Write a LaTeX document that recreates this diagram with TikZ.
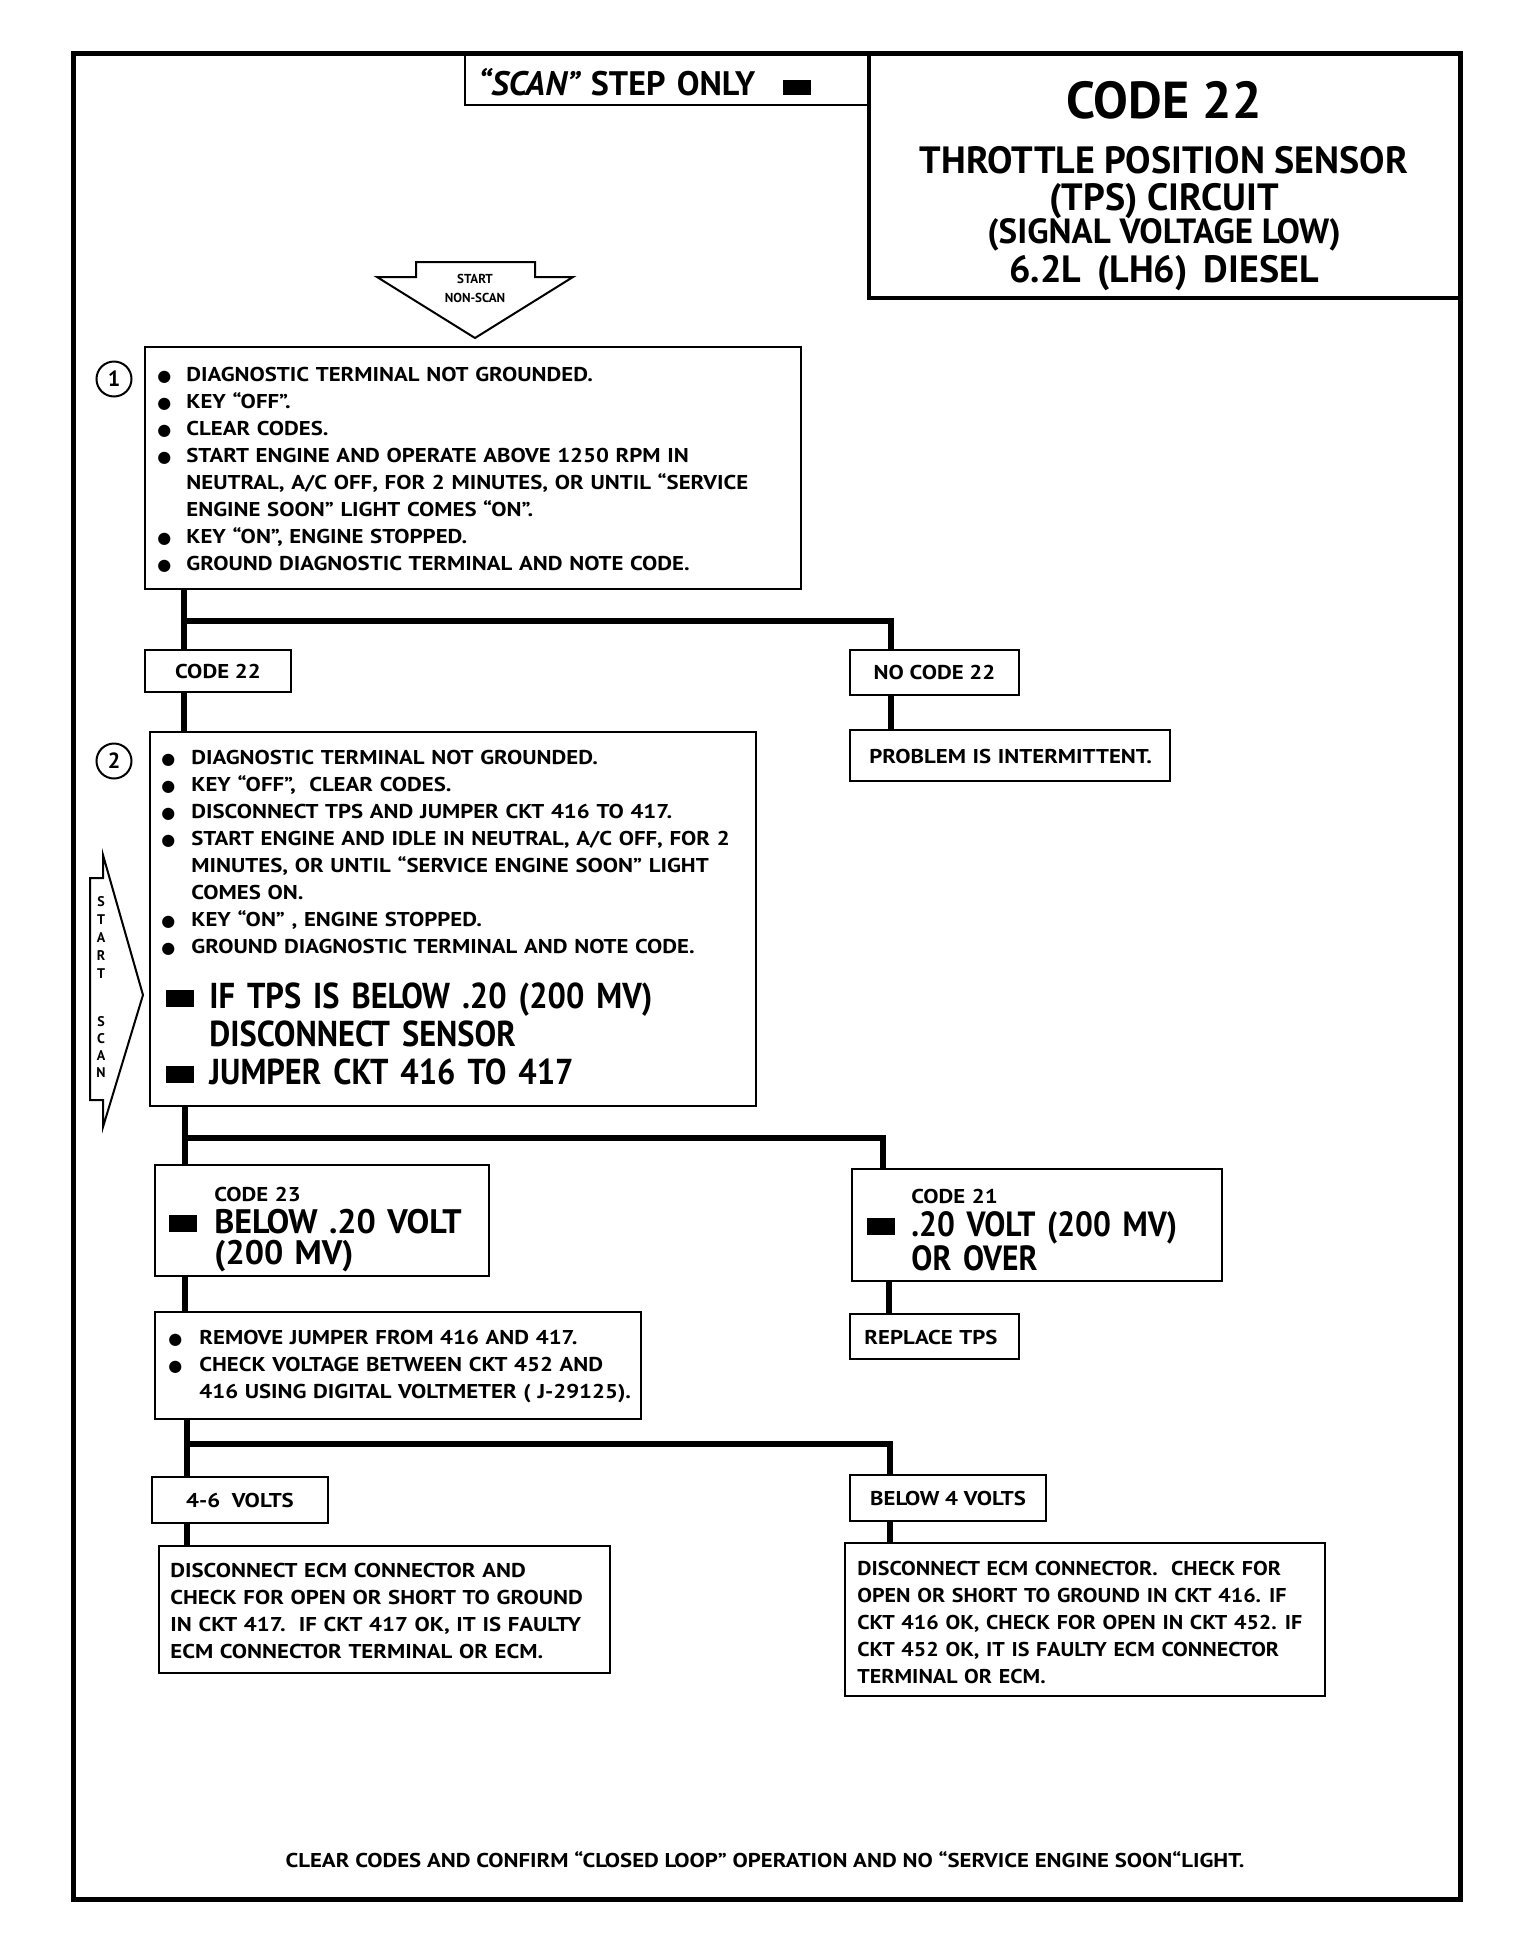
\documentclass[tikz,border=0pt]{standalone}
\usepackage{fontspec}
\setmainfont{PT Sans}
\newfontfamily\smfont{PT Sans}[FakeStretch=1.14]
\newfontfamily\rbfont{PT Sans}[FakeStretch=1.1]
\newfontfamily\cndfont{PT Sans}[FakeStretch=0.9]
\newfontfamily\symfont{DejaVu Sans}
\usetikzlibrary{fit}
\newlength\bulind
\newcommand\dotb{{\symfont\fontsize{8}{8}\selectfont ●}}
\newcommand\bul[1]{\hangindent=\bulind\hangafter=1 \makebox[\bulind][l]{\dotb}#1\par}
\newcommand\blk{\rule[0.3pt]{14pt}{8.5pt}}
\tikzset{
  box/.style={draw, line width=1.2pt, inner sep=0pt},
  conn/.style={line width=3pt},
  txt/.style={inner sep=0pt, anchor=base west, text width=#1, align=left},
  txt/.default=400pt,
  ctxt/.style={inner sep=0pt, anchor=base},
  f10/.style={font=\smfont\fontsize{10}{13.5}\selectfont\bfseries},
  numc/.style={circle, draw, line width=1pt, minimum size=17.5pt, inner sep=0pt, font=\fontsize{11}{12}\selectfont\bfseries},
  arrowshape/.style={line width=1pt, line join=miter},
}
\begin{document}
\begin{tikzpicture}[x=0.5pt,y=-0.5pt]
\useasboundingbox (0,0) rectangle (1536,1960);
% frame and header
\node[box, line width=2.5pt, fit={(73,53)(1460,1899)}] (frame) {};
\node[box, fit={(465,53)(869,105)}] (scanbox) {};
\node[box, line width=1.6pt, fit={(869,53)(1460,298)}] (titlebox) {};
\node[txt, font=\fontsize{17}{19}\selectfont\bfseries] (scantxt) at (478,95) {{\itshape “SCAN”} STEP ONLY\hspace{14pt}\rule{14pt}{7.5pt}};
\node[ctxt, font=\fontsize{26}{30}\selectfont\bfseries] (code22) at (1164,118) {CODE 22};
\node[ctxt, font=\fontsize{19}{22}\selectfont\bfseries] (tt1) at (1164,173) {THROTTLE POSITION SENSOR};
\node[ctxt, font=\fontsize{19}{22}\selectfont\bfseries] (tt2) at (1164,210) {(TPS) CIRCUIT};
\node[ctxt, font=\fontsize{17.5}{19}\selectfont\bfseries] (tt3) at (1164,243) {(SIGNAL VOLTAGE LOW)};
\node[ctxt, font=\fontsize{19}{22}\selectfont\bfseries] (tt4) at (1164,282) {6.2L\hspace{8pt}(LH6)\hspace{8pt}DIESEL};
% start non-scan arrow
\draw[arrowshape] (416,262) -- (535,262) -- (535,277) -- (573,277) -- (475,338) -- (377,277) -- (416,277) -- cycle;
\node[ctxt, font=\fontsize{6.5}{8}\selectfont\bfseries] (ns1) at (475,283) {START};
\node[ctxt, font=\fontsize{6.5}{8}\selectfont\bfseries] (ns2) at (475,302) {NON-SCAN};
% start scan arrow
\draw[arrowshape] (103,855) -- (143,995) -- (103,1127) -- (103,1100) -- (90,1100) -- (90,878) -- (103,878) -- cycle;
\node[inner sep=0pt, anchor=base, text width=10pt, align=center, font=\fontsize{7}{9}\selectfont\bfseries] (ss1) at (101,906) {S\\T\\A\\R\\T};
\node[inner sep=0pt, anchor=base, text width=10pt, align=center, font=\fontsize{7}{8.5}\selectfont\bfseries] (ss2) at (101,1026) {S\\C\\A\\N};
% step numbers
\node[numc] (n1) at (114,379) {1};
\node[numc] (n2) at (114,761) {2};
% boxes
\node[box, fit={(145,347)(801,589)}] (b1) {};
\node[box, fit={(145,650)(291,692)}] (c22) {};
\node[box, fit={(850,650)(1019,695)}] (nc22) {};
\node[box, fit={(850,730)(1170,781)}] (prob) {};
\node[box, fit={(150,732)(756,1106)}] (b2) {};
\node[box, fit={(155,1165)(489,1276)}] (c23) {};
\node[box, fit={(852,1169)(1222,1281)}] (c21) {};
\node[box, fit={(155,1312)(641,1419)}] (rem) {};
\node[box, fit={(850,1314)(1019,1359)}] (rep) {};
\node[box, fit={(152,1477)(328,1523)}] (v46) {};
\node[box, fit={(850,1475)(1046,1521)}] (b4v) {};
\node[box, fit={(159,1546)(610,1673)}] (lbox) {};
\node[box, fit={(845,1543)(1325,1696)}] (rbox) {};
% texts
\node[txt, f10] (t1) at (157,381) {\setlength\bulind{14.5pt}%
\bul{DIAGNOSTIC TERMINAL NOT GROUNDED.}%
\bul{KEY “OFF”.}%
\bul{CLEAR CODES.}%
\bul{START ENGINE AND OPERATE ABOVE 1250 RPM IN\newline NEUTRAL, A/C OFF, FOR 2 MINUTES, OR UNTIL “SERVICE\newline ENGINE SOON” LIGHT COMES “ON”.}%
\bul{KEY “ON”, ENGINE STOPPED.}%
\bul{GROUND DIAGNOSTIC TERMINAL AND NOTE CODE.}};
\node[ctxt, f10] (tc22) at (c22.center) [yshift=-3.5pt] {CODE 22};
\node[ctxt, f10] (tnc22) at (nc22.center) [yshift=-3.5pt] {NO CODE 22};
\node[txt, f10] (tprob) at (869,763) {PROBLEM IS INTERMITTENT.};
\node[txt, f10] (t2) at (161,764) {\setlength\bulind{15pt}%
\bul{DIAGNOSTIC TERMINAL NOT GROUNDED.}%
\bul{KEY “OFF”,\ \ CLEAR CODES.}%
\bul{DISCONNECT TPS AND JUMPER CKT 416 TO 417.}%
\bul{START ENGINE AND IDLE IN NEUTRAL, A/C OFF, FOR 2\newline MINUTES, OR UNTIL “SERVICE ENGINE SOON” LIGHT\newline COMES ON.}%
\bul{KEY “ON” , ENGINE STOPPED.}%
\bul{GROUND DIAGNOSTIC TERMINAL AND NOTE CODE.}};
\node[txt, font=\cndfont\fontsize{18}{19}\selectfont\bfseries] (t2big) at (166,1008) {\blk\hspace{7.5pt}IF TPS IS BELOW .20 (200 MV)\\
\hspace*{21.5pt}DISCONNECT SENSOR\\
\blk\hspace{7.5pt}JUMPER CKT 416 TO 417};
\node[txt, f10] (tc23a) at (214,1201) {CODE 23};
\node[txt, font=\fontsize{17}{15.5}\selectfont\bfseries] (tc23b) at (214,1233) {\llap{\blk\hspace{8.5pt}}BELOW .20 VOLT\\(200 MV)};
\node[txt, f10] (tc21a) at (911,1203) {CODE 21};
\node[txt, font=\cndfont\fontsize{17.5}{15.5}\selectfont\bfseries] (tc21b) at (911,1236) {\llap{\blk\hspace{8pt}}.20 VOLT (200 MV)\\OR OVER};
\node[txt, f10] (trem) at (168,1344) {\setlength\bulind{15.5pt}%
\bul{REMOVE JUMPER FROM 416 AND 417.}%
\bul{CHECK VOLTAGE BETWEEN CKT 452 AND\newline 416 USING DIGITAL VOLTMETER ( J-29125).}};
\node[txt, f10] (trep) at (864,1344) {REPLACE TPS};
\node[ctxt, f10] (tv46) at (v46.center) [yshift=-3.5pt] {4-6\ \ VOLTS};
\node[ctxt, f10] (tb4v) at (b4v.center) [yshift=-3.5pt] {BELOW 4 VOLTS};
\node[txt, f10] (tl) at (170,1577) {DISCONNECT ECM CONNECTOR AND\\
CHECK FOR OPEN OR SHORT TO GROUND\\
IN CKT 417.\ \ IF CKT 417 OK, IT IS FAULTY\\
ECM CONNECTOR TERMINAL OR ECM.};
\node[txt, font=\rbfont\fontsize{10}{13.5}\selectfont\bfseries] (tr) at (857,1575) {DISCONNECT ECM CONNECTOR.\ \ CHECK FOR\\
OPEN OR SHORT TO GROUND IN CKT 416.\hspace{4pt}IF\\
CKT 416 OK, CHECK FOR OPEN IN CKT 452.\hspace{4pt}IF\\
CKT 452 OK, IT IS FAULTY ECM CONNECTOR\\
TERMINAL OR ECM.};
\node[ctxt, f10] (tbot) at (765,1867) {CLEAR CODES AND CONFIRM “CLOSED LOOP” OPERATION AND NO “SERVICE ENGINE SOON“LIGHT.};
% connectors
\coordinate (j1) at (184,621);
\coordinate (j1r) at (891,621);
\draw[conn] (b1.south -| j1) -- (c22.north -| j1);
\draw[conn] (j1) -- (j1r) -- (nc22.north -| j1r);
\draw[conn] (c22.south -| j1) -- (b2.north -| j1);
\draw[conn] (nc22.south -| j1r) -- (prob.north -| j1r);
\coordinate (j2) at (185,1138);
\coordinate (j2r) at (883,1138);
\draw[conn] (b2.south -| j2) -- (c23.north -| j2);
\draw[conn] (j2) -- (j2r) -- (c21.north -| j2r);
\draw[conn] (c23.south -| j2) -- (rem.north -| j2);
\coordinate (j2b) at (889,1300);
\draw[conn] (c21.south -| j2b) -- (rep.north -| j2b);
\coordinate (j3) at (187,1444);
\coordinate (j3r) at (890,1444);
\draw[conn] (rem.south -| j3) -- (v46.north -| j3);
\draw[conn] (j3) -- (j3r) -- (b4v.north -| j3r);
\draw[conn] (v46.south -| j3) -- (lbox.north -| j3);
\draw[conn] (b4v.south -| j3r) -- (rbox.north -| j3r);
\end{tikzpicture}
\end{document}
